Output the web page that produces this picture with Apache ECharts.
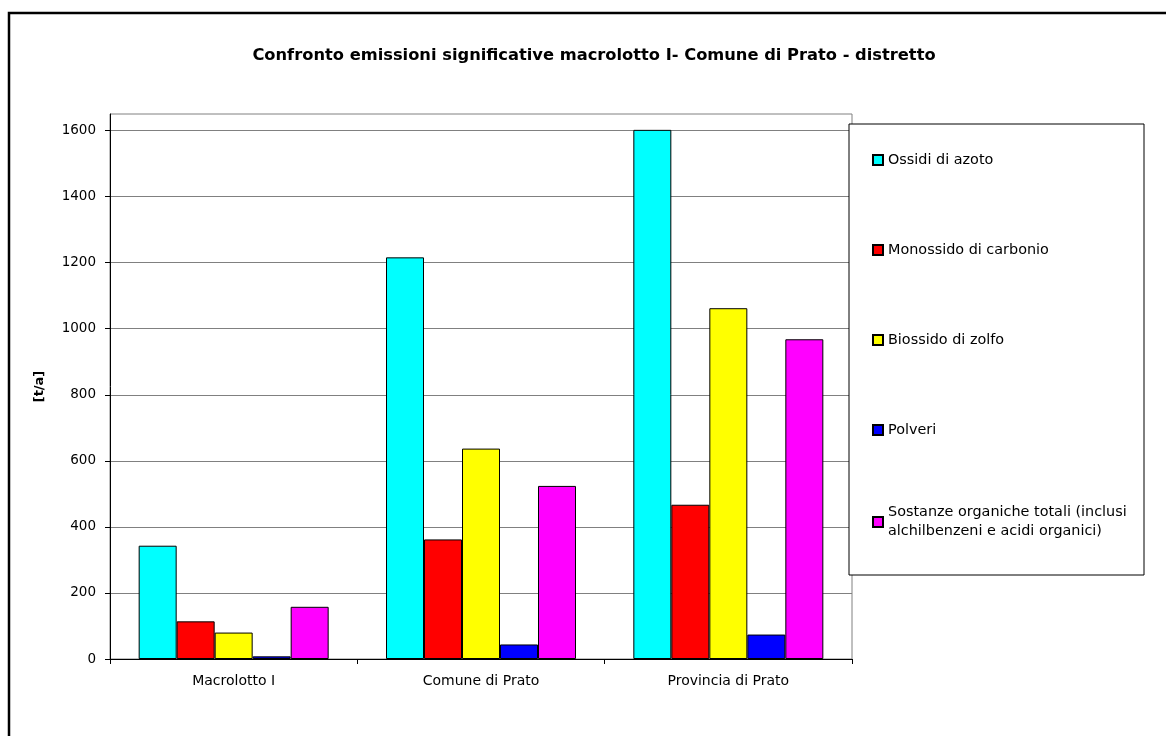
<!DOCTYPE html>
<html>
<head>
<meta charset="utf-8">
<script src="https://cdn.jsdelivr.net/npm/echarts@6/dist/echarts.min.js"></script>
<style>html,body{margin:0;padding:0;background:#fff}#c{width:1166px;height:736px}</style>
</head>
<body>
<div id="c"></div>
<script>
const categories = ['Macrolotto I', 'Comune di Prato', 'Provincia di Prato'];
const seriesNames = [
  'Ossidi di azoto',
  'Monossido di carbonio',
  'Biossido di zolfo',
  'Polveri',
  'Sostanze organiche totali (inclusi\nalchilbenzeni e acidi organici)'
];
const ossidiAzoto = [343, 1216, 1602];
const monossidoCarbonio = [114, 362, 467];
const biossidoZolfo = [80, 637, 1062];
const polveri = [8, 44, 74];
const sostanzeOrganiche = [158, 524, 968];
const yTicks = [0, 200, 400, 600, 800, 1000, 1200, 1400, 1600];
const colors = ['#00FFFF', '#FF0000', '#FFFF00', '#0000FF', '#FF00FF'];
const values = [ossidiAzoto, monossidoCarbonio, biossidoZolfo, polveri, sostanzeOrganiche];

const FONT = 'DejaVu Sans';
const chart = echarts.init(document.getElementById('c'), null, {renderer: 'canvas'});

const series = values.map((v, i) => ({
  name: seriesNames[i],
  type: 'bar',
  data: v,
  barWidth: 38,
  barGap: 0,
  itemStyle: {color: colors[i], borderColor: '#000', borderWidth: 1},
  emphasis: {disabled: true}
}));

chart.setOption({
  animation: false,
  backgroundColor: '#fff',
  title: {
    text: 'Confronto emissioni significative macrolotto I- Comune di Prato - distretto',
    left: 594,
    textAlign: 'center',
    top: 48,
    padding: 0,
    textStyle: {fontFamily: FONT, fontWeight: 'bold', fontSize: 16.3, color: '#000'}
  },
  graphic: [
    {type: 'rect', z: -10, shape: {x: 9, y: 13, width: 1200, height: 800},
     style: {fill: null, stroke: '#000', lineWidth: 2.5}},
    {type: 'rect', z: 5, shape: {x: 849, y: 124, width: 295, height: 451},
     style: {fill: '#fff', stroke: '#000', lineWidth: 1}}
  ],
  legend: [
    {
      data: seriesNames.slice(0, 4),
      orient: 'vertical',
      left: 872,
      top: 150.5,
      padding: 0,
      itemGap: 71,
      itemWidth: 10,
      itemHeight: 10,
      icon: 'rect',
      z: 10,
      selectedMode: false,
      textStyle: {fontFamily: FONT, fontSize: 14.4, color: '#000', lineHeight: 19}
    },
    {
      data: seriesNames.slice(4),
      orient: 'vertical',
      left: 872,
      top: 493.5,
      padding: 0,
      itemWidth: 10,
      itemHeight: 10,
      icon: 'rect',
      z: 10,
      selectedMode: false,
      textStyle: {fontFamily: FONT, fontSize: 14.4, color: '#000', lineHeight: 19, padding: [19, 0, 0, 0]}
    }
  ],
  grid: {
    left: 110, right: 314, top: 114, bottom: 77,
    show: true, borderColor: '#808080', borderWidth: 1, backgroundColor: 'transparent'
  },
  xAxis: {
    type: 'category',
    data: categories,
    axisLine: {lineStyle: {color: '#000', width: 1}},
    axisTick: {show: true, length: 5, lineStyle: {color: '#000'}},
    axisLabel: {fontFamily: FONT, fontSize: 14, color: '#000', margin: 15}
  },
  yAxis: {
    type: 'value',
    min: 0, max: 1650, interval: 200,
    name: '[t/a]',
    nameLocation: 'middle',
    nameGap: 64,
    nameRotate: 90,
    nameTextStyle: {fontFamily: FONT, fontWeight: 'bold', fontSize: 13, color: '#000'},
    axisLine: {show: true, lineStyle: {color: '#000', width: 1}},
    axisTick: {show: true, length: 5, lineStyle: {color: '#000'}, customValues: yTicks},
    axisLabel: {fontFamily: FONT, fontSize: 13.5, color: '#000', margin: 14, customValues: yTicks,
      formatter: v => String(v)},
    splitLine: {show: true, lineStyle: {color: '#808080', width: 1}}
  },
  series: series
});
</script>
</body>
</html>
